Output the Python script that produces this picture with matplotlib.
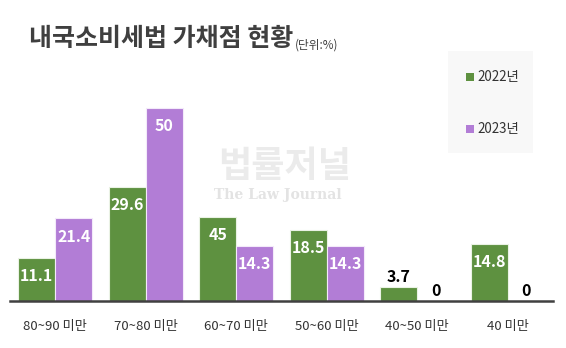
import matplotlib
matplotlib.use("Agg")
import matplotlib.pyplot as plt
from matplotlib.patches import Rectangle
import numpy as np

plt.rcParams['font.family'] = ['Noto Sans CJK KR', 'DejaVu Sans']

categories = ["80~90 미만", "70~80 미만", "60~70 미만", "50~60 미만", "40~50 미만", "40 미만"]
# bar heights as drawn in the reference
heights_2022 = [11.1, 29.6, 21.8, 18.5, 3.7, 14.8]
heights_2023 = [21.4, 50, 14.3, 14.3, 0, 0]
# labels as printed in the reference
labels_2022 = ["11.1", "29.6", "45", "18.5", "3.7", "14.8"]
labels_2023 = ["21.4", "50", "14.3", "14.3", "0", "0"]
series_names = ["2022년", "2023년"]

green = "#5E9140"
purple = "#B27DD6"

fig = plt.figure(figsize=(5.66, 3.48), dpi=100)
ax = fig.add_axes([10/566, 47/348, 543/566, 206/348])

x = np.arange(len(categories))
w = 0.41
b1 = ax.bar(x - w/2, heights_2022, w, color=green, edgecolor="#EAF2E4", linewidth=0.8, zorder=2)
b2 = ax.bar(x + w/2, heights_2023, w, color=purple, edgecolor="#F3EAFA", linewidth=0.8, zorder=2)

ax.set_xlim(-0.5, len(categories) - 0.5)
ax.set_ylim(0, 53.4)
for s in ["top", "right", "left"]:
    ax.spines[s].set_visible(False)
ax.spines["bottom"].set_color("#404040")
ax.spines["bottom"].set_linewidth(1.8)
ax.set_yticks([])
ax.set_xticks(x)
ax.set_xticklabels(categories, fontsize=9.5, color="#333333")
ax.tick_params(axis="x", length=0, pad=14)

def put_labels(bars, heights, labels):
    for rect, h, lab in zip(bars, heights, labels):
        cx = rect.get_x() + rect.get_width() / 2
        if h >= 8:
            ax.text(cx, h - 4.7, lab, ha="center", va="center", fontsize=11.5,
                    fontweight="bold", color="white", zorder=3)
        else:
            ax.text(cx, h + 2.5, lab, ha="center", va="center", fontsize=11.5,
                    fontweight="bold", color="black", zorder=3)

put_labels(b1, heights_2022, labels_2022)
put_labels(b2, heights_2023, labels_2023)

# watermark
fig.text(285/566, 1 - 167/348, "법률저널", ha="center", va="center", fontsize=26, fontweight="bold",
         color="#EBEBEB", zorder=0)
fig.text(278/566, 1 - 195/348, "The Law Journal", ha="center", va="center", fontsize=10,
         family="DejaVu Serif", fontweight="bold", color="#E3E3E3", zorder=0)

# title
title = fig.text(29/566, 1 - 39/348, "내국소비세법 가채점 현황", ha="left", va="center",
                 fontsize=18, fontweight="bold", color="#3F3F3F")
ax.annotate("(단위:%)", xy=(1, 0.5), xycoords=title, xytext=(1.5, -4),
            textcoords="offset points", ha="left", va="center",
            fontsize=8.4, color="#3F3F3F", annotation_clip=False)

# legend box
fig.patches.append(Rectangle((448/566, 1 - 153/348), 85/566, 102/348,
                             transform=fig.transFigure, facecolor="#F8F8F8",
                             edgecolor="none", zorder=0))
for i, (name, col) in enumerate(zip(series_names, [green, purple])):
    yc = 1 - (77 + i * 52) / 348
    fig.patches.append(Rectangle((466/566, yc - 4/348), 8/566, 8/348,
                                 transform=fig.transFigure, facecolor=col,
                                 edgecolor="none", zorder=1))
    fig.text(477/566, yc, name, ha="left", va="center", fontsize=9.6, color="#333333")

fig.savefig("out.png", dpi=100)
